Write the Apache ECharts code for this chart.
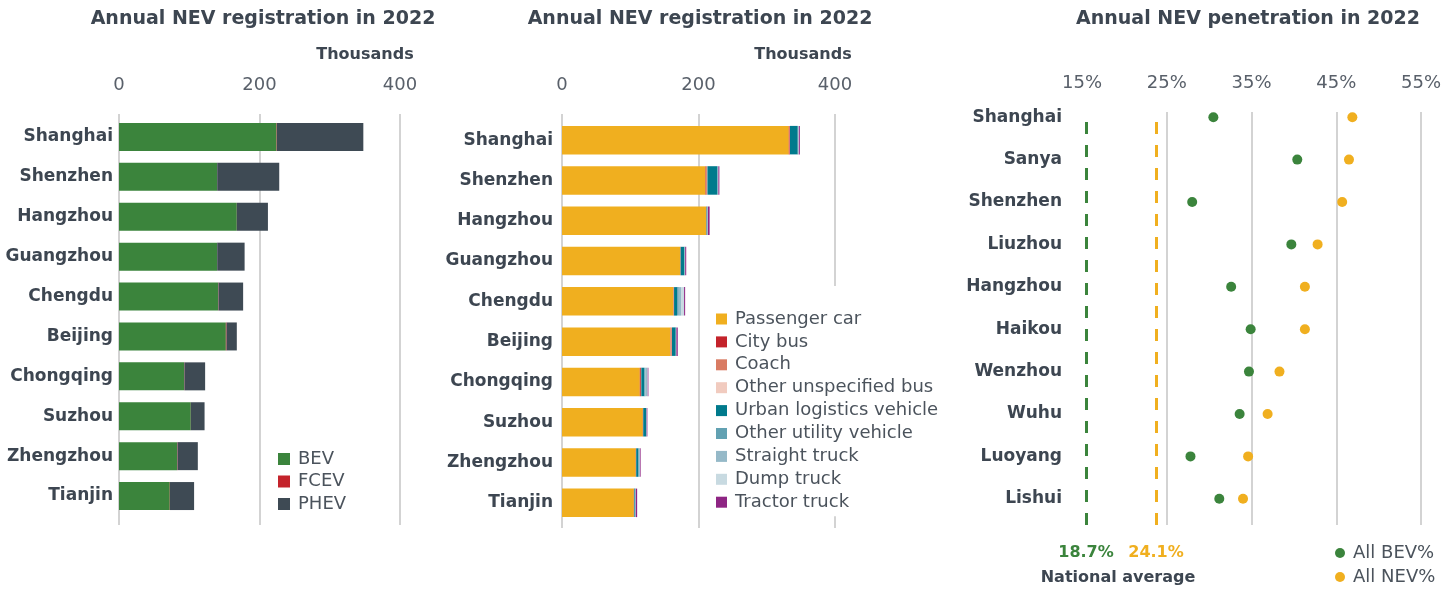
<!DOCTYPE html>
<html>
<head>
<meta charset="utf-8">
<script src="https://cdn.jsdelivr.net/npm/echarts@6/dist/echarts.min.js"></script>
<style>
  html, body { margin: 0; padding: 0; background: #fff; }
  #main { width: 1456px; height: 590px; }
</style>
</head>
<body>
<div id="main"></div>
<script>
// registrations, thousands
const cities = ['Shanghai', 'Shenzhen', 'Hangzhou', 'Guangzhou', 'Chengdu', 'Beijing', 'Chongqing', 'Suzhou', 'Zhengzhou', 'Tianjin']
const bev = [224.3, 139.7, 167.7, 139.7, 141.1, 152.1, 92.6, 102.2, 82.7, 72.3]
const fcev = [0.5, 0.1, 0.1, 0.1, 0.5, 1.0, 0.5, 0.1, 0.6, 0.3]
const phev = [123.0, 88.3, 44.2, 39.0, 35.1, 14.6, 29.5, 19.5, 28.9, 34.3]

const passengerCar = [332.3, 210.3, 211.3, 173.0, 163.2, 158.7, 114.0, 118.4, 108.1, 105.2]
const cityBus = [1.3, 1.0, 0.2, 0.5, 0.5, 0.3, 1.5, 0.3, 0.3, 0.2]
const coach = [0.3, 1.5, 0.2, 0.3, 0.3, 2.0, 0.5, 0.2, 0.2, 0.2]
const otherBus = [0.2, 0.3, 0.1, 0.1, 0.2, 0.2, 0.2, 0.1, 0.1, 0.1]
const urbanLogistics = [11.3, 14.7, 0.8, 5.4, 4.4, 5.4, 4.4, 4.4, 3.0, 1.0]
const otherUtility = [0.5, 0.5, 0.8, 0.5, 2.5, 0.5, 1.5, 0.3, 2.0, 1.0]
const straightTruck = [0.8, 0.5, 0.3, 0.5, 3.4, 0.3, 3.0, 0.3, 0.3, 0.3]
const dumpTruck = [0.3, 0.3, 0.1, 0.2, 4.4, 0.2, 0.5, 0.1, 0.2, 0.1]
const tractorTruck = [1.5, 1.5, 2.5, 1.5, 1.5, 2.0, 1.0, 1.0, 1.0, 2.0]

// penetration, %
const cities3 = ['Shanghai', 'Sanya', 'Shenzhen', 'Liuzhou', 'Hangzhou', 'Haikou', 'Wenzhou', 'Wuhu', 'Luoyang', 'Lishui']
const bevShare = [30.5, 40.4, 28.0, 39.7, 32.6, 34.9, 34.7, 33.6, 27.8, 31.2]
const nevShare = [46.9, 46.5, 45.7, 42.8, 41.3, 41.3, 38.3, 36.9, 34.6, 34.0]
const nationalLabels = ['18.7%', '24.1%']
const nationalLinePos = [15.5, 23.8]  // where the dashed lines sit in the picture

const FONT = 'DejaVu Sans'
const DARK = '#3d4651'
const GREY = '#59606a'
const GRID = '#d3d3d3'

const catAxis = (grid, data, margin) => ({
  type: 'category', gridIndex: grid, data: data, inverse: true,
  axisLine: { show: false }, axisTick: { show: false },
  axisLabel: { margin: margin, fontFamily: FONT, fontSize: 17, fontWeight: 'bold', color: DARK }
})
const hiddenY = (grid) => ({ type: 'value', gridIndex: grid, show: false })
const labelX = (grid, min, max, interval, fmt, colors) => ({
  type: 'value', gridIndex: grid, position: 'top', min: min, max: max, interval: interval,
  axisLine: { show: false }, axisTick: { show: false },
  axisLabel: { margin: 20, fontFamily: FONT, fontSize: 18, color: GREY, formatter: fmt },
  splitLine: { show: true, lineStyle: { color: colors || GRID, width: 2 } }
})
const hiddenX = (grid, min, max) => ({ type: 'value', gridIndex: grid, min: min, max: max, show: false, splitLine: { show: false } })

const bar = (name, data, color, x, y, stack, w) => ({
  name: name, type: 'bar', stack: stack, xAxisIndex: x, yAxisIndex: y,
  data: data, barWidth: w, itemStyle: { color: color }
})

const text = (x, y, s, font, fill) => ({
  type: 'text', style: { x: x, y: y, text: s, align: 'center', verticalAlign: 'middle', font: font, fill: fill }
})

const legendText = { fontFamily: FONT, fontSize: 18, color: '#4b535c', lineHeight: 20, padding: [0, 0, 0, 3] }

const chart = echarts.init(document.getElementById('main'))
chart.setOption({
  animation: false,
  textStyle: { fontFamily: FONT },
  grid: [
    { left: 119, right: 1056, top: 114, bottom: 65 },   // 0 panel1 gridlines
    { left: 119, right: 1056, top: 117, bottom: 74 },   // 1 panel1 bars
    { left: 562, right: 621, top: 114, bottom: 62 },    // 2 panel2 gridlines
    { left: 562, right: 621, top: 120, bottom: 67 },    // 3 panel2 bars
    { left: 1082, right: 35, top: 112, bottom: 65 },    // 4 panel3 gridlines
    { left: 1082, right: 35, top: 96, bottom: 70 }      // 5 panel3 dots
  ],
  xAxis: [
    labelX(0, 0, 400, 200),
    hiddenX(1, 0, 400),
    labelX(2, 0, 400, 200),
    hiddenX(3, 0, 400),
    labelX(4, 15, 55, 10, '{value}%', ['rgba(0,0,0,0)', GRID, GRID, GRID, GRID]),
    hiddenX(5, 15, 55)
  ],
  yAxis: [
    hiddenY(0),
    catAxis(1, cities, 6),
    hiddenY(2),
    catAxis(3, cities, 9),
    hiddenY(4),
    catAxis(5, cities3, 20)
  ],
  legend: [
    {
      data: ['BEV', 'FCEV', 'PHEV'], orient: 'vertical', left: 278, top: 449, padding: 0,
      itemWidth: 12, itemHeight: 12, itemGap: 2.5, icon: 'rect', textStyle: legendText
    },
    {
      data: ['Passenger car', 'City bus', 'Coach', 'Other unspecified bus', 'Urban logistics vehicle',
        'Other utility vehicle', 'Straight truck', 'Dump truck', 'Tractor truck'],
      orient: 'vertical', left: 716, top: 286, padding: [23, 12, 4, 0], backgroundColor: '#fff',
      itemWidth: 11, itemHeight: 11, itemGap: 2.9, icon: 'rect', textStyle: legendText
    },
    {
      data: ['All BEV%', 'All NEV%'], orient: 'vertical', left: 1335, top: 543, padding: 0,
      itemWidth: 10, itemHeight: 10, itemGap: 4, icon: 'circle', textStyle: legendText
    }
  ],
  graphic: [
    text(263, 19, 'Annual NEV registration in 2022', 'bold 19px "DejaVu Sans"', DARK),
    text(700, 19, 'Annual NEV registration in 2022', 'bold 19px "DejaVu Sans"', DARK),
    text(1248, 19, 'Annual NEV penetration in 2022', 'bold 19px "DejaVu Sans"', DARK),
    text(365, 55, 'Thousands', 'bold 16px "DejaVu Sans"', DARK),
    text(803, 55, 'Thousands', 'bold 16px "DejaVu Sans"', DARK),
    text(1086, 553, nationalLabels[0], 'bold 16px "DejaVu Sans"', '#3b843c'),
    text(1156, 553, nationalLabels[1], 'bold 16px "DejaVu Sans"', '#f0af1f'),
    text(1118, 578, 'National average', 'bold 16px "DejaVu Sans"', DARK)
  ],
  series: [
    bar('BEV', bev, '#3b843c', 1, 1, 'a', 28),
    bar('FCEV', fcev, '#c4232b', 1, 1, 'a', 28),
    bar('PHEV', phev, '#3e4a54', 1, 1, 'a', 28),

    bar('Passenger car', passengerCar, '#f0af1f', 3, 3, 'b', 28.5),
    bar('City bus', cityBus, '#c4232b', 3, 3, 'b', 28.5),
    bar('Coach', coach, '#d97b63', 3, 3, 'b', 28.5),
    bar('Other unspecified bus', otherBus, '#f1cbbf', 3, 3, 'b', 28.5),
    bar('Urban logistics vehicle', urbanLogistics, '#007a8c', 3, 3, 'b', 28.5),
    bar('Other utility vehicle', otherUtility, '#62a1b2', 3, 3, 'b', 28.5),
    bar('Straight truck', straightTruck, '#95b9c8', 3, 3, 'b', 28.5),
    bar('Dump truck', dumpTruck, '#c8dae1', 3, 3, 'b', 28.5),
    bar('Tractor truck', tractorTruck, '#8e2583', 3, 3, 'b', 28.5),

    {
      name: 'national', type: 'line', xAxisIndex: 4, yAxisIndex: 4, data: [], silent: true,
      markLine: {
        symbol: 'none', silent: true, label: { show: false },
        data: [
          { xAxis: nationalLinePos[0], lineStyle: { color: '#3b843c', width: 3, type: [12, 11] } },
          { xAxis: nationalLinePos[1], lineStyle: { color: '#f0af1f', width: 3, type: [12, 11] } }
        ]
      }
    },
    {
      name: 'All BEV%', type: 'scatter', xAxisIndex: 5, yAxisIndex: 5, symbolSize: 10,
      data: bevShare, itemStyle: { color: '#3b843c', opacity: 1 }
    },
    {
      name: 'All NEV%', type: 'scatter', xAxisIndex: 5, yAxisIndex: 5, symbolSize: 10,
      data: nevShare, itemStyle: { color: '#f0af1f', opacity: 1 }
    }
  ]
})
</script>
</body>
</html>
